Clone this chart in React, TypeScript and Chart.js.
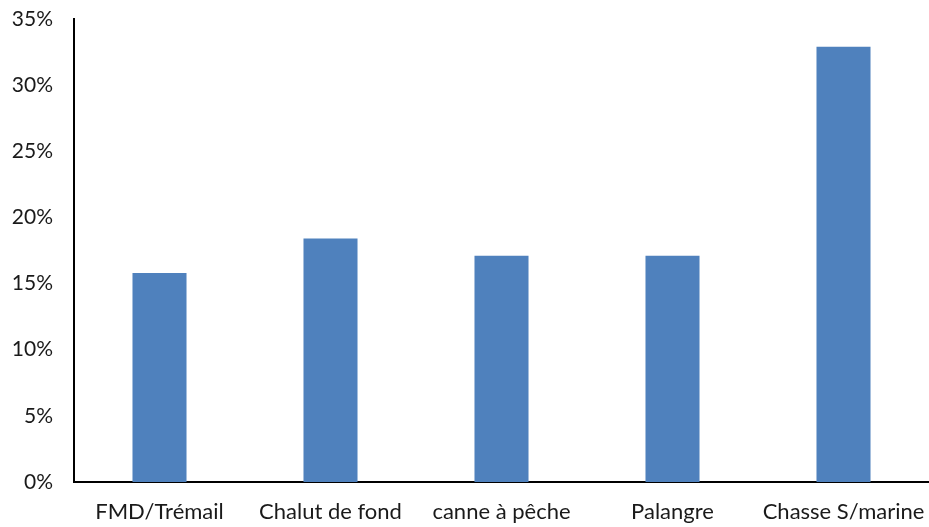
import React, { useEffect, useRef } from "react";
import { Chart, registerables } from "chart.js";

Chart.register(...registerables);

const categories = ["FMD/Trémail", "Chalut de fond", "canne à pêche", "Palangre", "Chasse S/marine"];
const values = [15.8, 18.4, 17.1, 17.1, 32.9];
const yTicks = [0, 5, 10, 15, 20, 25, 30, 35];

export default function App() {
  const ref = useRef<HTMLCanvasElement>(null);
  useEffect(() => {
    document.body.style.margin = "0";
    const ctx = ref.current!;
    const chart = new Chart(ctx, {
      type: "bar",
      data: {
        labels: categories,
        datasets: [
          {
            data: values,
            backgroundColor: "#4F81BD",
            borderWidth: 0,
            barPercentage: 0.316,
            categoryPercentage: 1,
          },
        ],
      },
      options: {
        animation: false,
        responsive: false,
        maintainAspectRatio: false,
        layout: { padding: { top: 19, right: 0, left: 0, bottom: 0 } },
        plugins: { legend: { display: false }, tooltip: { enabled: false } },
        scales: {
          x: {
            grid: { display: false, drawTicks: false },
            border: { display: true, color: "#000", width: 2 },
            ticks: {
              color: "#1a1a1a",
              font: { family: "Lato", size: 22 },
              padding: 17,
              maxRotation: 0,
              autoSkip: false,
            },
            afterFit: (s: any) => {
              s.height = 45;
              s.paddingLeft = 0;
              s.paddingRight = 0;
            },
          },
          y: {
            min: 0,
            max: 35,
            afterBuildTicks: (s: any) => {
              s.ticks = yTicks.map((v) => ({ value: v }));
            },
            grid: { display: false, drawTicks: false },
            border: { display: true, color: "#000", width: 2 },
            ticks: {
              color: "#1a1a1a",
              font: { family: "Lato", size: 21 },
              padding: 21,
              callback: (v: any) => v + "%",
            },
            afterFit: (s: any) => {
              s.width = 74;
              s.paddingTop = 0;
              s.paddingBottom = 0;
            },
          },
        },
      },
    });
    return () => chart.destroy();
  }, []);
  return (
    <div style={{ width: 929, height: 527 }}>
      <canvas ref={ref} width={929} height={527} style={{ display: "block" }} />
    </div>
  );
}
